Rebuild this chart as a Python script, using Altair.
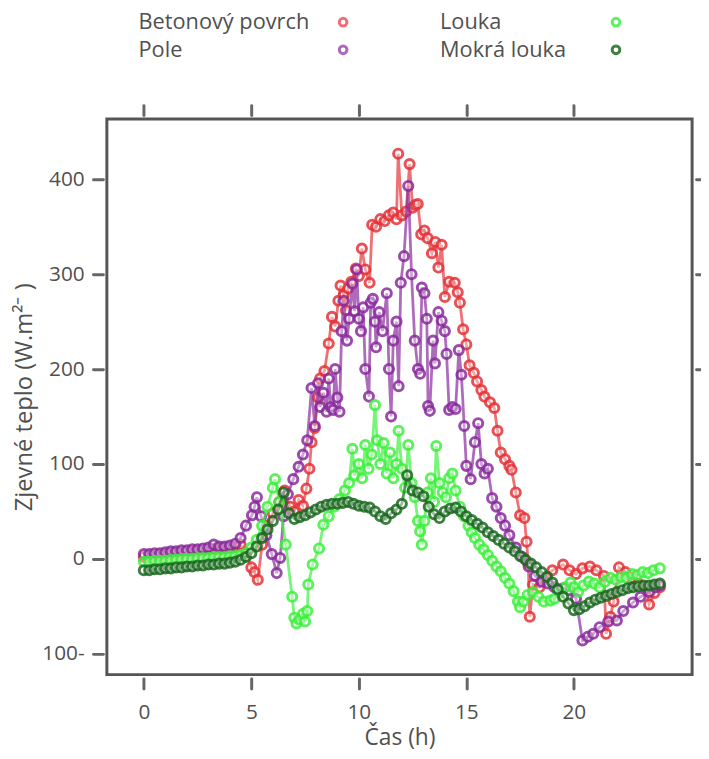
import altair as alt
import pandas as pd

SERIES = ["Betonový povrch", "Pole", "Louka", "Mokrá louka"]
COLORS = ["#e5343a", "#8a2c9e", "#3ff03f", "#1d6a22"]

X_TICKS = [0, 5, 10, 15, 20]
Y_TICKS = [-100, 0, 100, 200, 300, 400]

# (hour, W/m2) readings
beton = [(0,2),(0.25,2),(0.5,3),(0.75,3),(1,4),(1.25,5),(1.5,5),(1.75,6),(2,6),(2.25,7),(2.5,7),(2.75,8),
         (3,9),(3.25,10),(3.5,10),(3.75,10),(4,11),(4.25,13),(4.5,15),(4.75,6),(5.0,-9),(5.15,-14),(5.3,-22),
         (5.5,15),(5.75,35),(6.0,48),(6.3,60),(6.55,72),(6.8,55),(7.0,50),(7.2,62),(7.4,56),(7.56,74),(7.7,95),
         (7.8,123),(7.95,138),(8.1,170),(8.2,190),(8.4,198),(8.6,227),(8.75,255),(8.9,245),(9.05,272),(9.15,288),
         (9.3,278),(9.4,262),(9.5,285),(9.65,292),(9.86,306),(10.0,298),(10.14,327),(10.3,305),(10.5,291),
         (10.62,352),(10.8,350),(11.0,358),(11.2,356),(11.4,362),(11.6,365),(11.75,358),(11.83,427),(12.0,362),
         (12.2,366),(12.36,416),(12.5,370),(12.62,373),(12.74,374),(12.9,342),(13.05,346),(13.2,338),(13.4,322),
         (13.55,334),(13.7,307),(13.85,331),(14.0,276),(14.2,292),(14.46,291),(14.6,281),(14.7,270),(14.85,242),
         (15.0,226),(15.15,204),(15.35,196),(15.5,187),(15.7,178),(15.84,171),(16.1,165),(16.3,159),(16.45,135),
         (16.6,112),(16.8,105),(17.0,98),(17.1,94),(17.3,70),(17.5,46),(17.7,43),(17.8,18),(17.88,-5),(17.95,-61),
         (18.1,-27),(18.4,-30),(18.7,-20),(19.0,-12),(19.5,-6),(19.8,-12),(20.1,-16),(20.4,-10),(20.75,-8),
         (21.05,-12),(21.4,-18),(21.5,-79),(21.7,-61),(21.85,-45),(22.1,-9),(22.4,-14),(22.7,-20),(23.0,-26),
         (23.35,-30),(23.5,-48),(23.75,-36),(24.0,-30)]

pole = [(0,5),(0.25,5),(0.5,6),(0.75,6),(1,7),(1.25,8),(1.5,8),(1.75,9),(2,9),(2.25,10),(2.5,10),(2.75,11),
        (3,12),(3.25,15),(3.5,13),(3.75,13),(4,14),(4.25,16),(4.5,22),(4.75,35),(5.03,46),(5.15,55),(5.26,65),
        (5.45,45),(5.7,25),(5.95,5),(6.18,-15),(6.34,1),(6.5,45),(6.7,68),(6.95,84),(7.2,97),(7.4,110),(7.6,125),
        (7.8,180),(7.95,140),(8.1,185),(8.2,160),(8.35,175),(8.5,155),(8.6,190),(8.7,160),(8.8,157),(8.9,200),
        (9.0,170),(9.1,155),(9.2,240),(9.3,272),(9.45,230),(9.55,253),(9.7,290),(9.8,261),(9.9,305),(10.0,253),
        (10.1,240),(10.2,265),(10.3,200),(10.47,171),(10.55,270),(10.65,274),(10.75,250),(10.8,223),(10.95,260),
        (11.1,240),(11.3,280),(11.4,200),(11.5,150),(11.6,230),(11.75,250),(11.85,182),(11.95,291),(12.1,319),
        (12.3,393),(12.45,300),(12.6,230),(12.75,200),(12.85,195),(12.93,286),(13.05,280),(13.16,253),(13.22,161),
        (13.3,156),(13.45,230),(13.54,206),(13.7,260),(13.85,251),(14.0,240),(14.08,216),(14.2,157),(14.35,160),
        (14.5,158),(14.65,220),(14.77,194),(14.9,140),(15.0,98),(15.2,84),(15.4,123),(15.55,143),(15.7,100),
        (15.85,90),(16.0,95),(16.2,64),(16.4,55),(16.6,43),(16.8,35),(17.0,25),(17.3,12),(17.6,2),(17.9,-8),
        (18.2,-18),(18.5,-24),(18.8,-26),(19.1,-30),(19.5,-31),(19.8,-33),(20.1,-42),(20.4,-86),(20.65,-82),
        (20.9,-79),(21.2,-72),(21.6,-66),(22.0,-65),(22.3,-55),(22.75,-46),(23.1,-40),(23.5,-35),(23.8,-30),(24.0,-28)]

louka = [(0,-3),(0.25,-3),(0.5,-2),(0.75,-2),(1,-2),(1.25,-1),(1.5,-1),(1.75,0),(2,0),(2.25,0),(2.5,1),(2.75,1),
         (3,1),(3.25,2),(3.5,2),(3.75,2),(4,3),(4.25,3),(4.5,4),(4.75,6),(5.0,12),(5.25,20),(5.5,35),(5.75,55),
         (6.0,75),(6.1,84),(6.3,60),(6.6,15),(6.9,-40),(7.0,-62),(7.1,-68),(7.25,-64),(7.4,-58),(7.5,-66),(7.6,-55),
         (7.65,-27),(7.85,-6),(8.15,11),(8.35,36),(8.6,45),(8.85,55),(9.1,63),(9.35,72),(9.55,80),(9.7,116),
         (9.8,88),(10.0,100),(10.15,85),(10.3,120),(10.45,95),(10.6,110),(10.75,162),(10.85,125),(11.0,100),
         (11.15,122),(11.3,90),(11.45,112),(11.6,85),(11.75,100),(11.85,135),(12.0,95),(12.15,75),(12.3,120),
         (12.45,80),(12.6,65),(12.75,40),(12.85,29),(12.93,15),(13.05,40),(13.2,70),(13.35,85),(13.5,60),
         (13.6,119),(13.75,80),(13.9,70),(14.05,65),(14.2,85),(14.35,90),(14.5,72),(14.7,55),(14.9,45),(15.1,35),
         (15.25,28),(15.4,22),(15.6,15),(15.8,10),(16.0,4),(16.2,-2),(16.4,-8),(16.6,-13),(16.8,-20),(17.0,-26),
         (17.2,-34),(17.4,-45),(17.5,-51),(17.65,-45),(17.85,-38),(18.1,-35),(18.35,-40),(18.6,-45),(18.9,-44),
         (19.1,-42),(19.35,-36),(19.6,-30),(19.85,-25),(20.0,-30),(20.2,-35),(20.45,-28),(20.7,-24),(20.95,-26),
         (21.2,-30),(21.45,-24),(21.7,-20),(21.95,-22),(22.2,-19),(22.45,-20),(22.7,-16),(22.95,-17),(23.2,-14),
         (23.45,-15),(23.7,-12),(24.0,-10)]

mokra = [(0,-12),(0.25,-12),(0.5,-11),(0.75,-11),(1,-10),(1.25,-10),(1.5,-9),(1.75,-9),(2,-8),(2.25,-8),
         (2.5,-7),(2.75,-7),(3,-6),(3.25,-6),(3.5,-5),(3.75,-5),(4,-4),(4.25,-3),(4.5,-1),(4.75,2),(5.0,6),
         (5.25,13),(5.5,22),(5.75,31),(6.0,40),(6.25,52),(6.5,70),(6.75,48),(7.0,42),(7.25,44),(7.5,46),(7.75,49),
         (8.0,52),(8.25,55),(8.5,57),(8.75,58),(9.0,58),(9.25,59),(9.5,60),(9.75,58),(10.0,56),(10.25,55),
         (10.5,54),(10.75,50),(11.0,45),(11.25,42),(11.5,48),(11.75,52),(12.0,58),(12.25,88),(12.5,72),(12.75,70),
         (13.0,66),(13.25,55),(13.5,47),(13.75,43),(14.0,50),(14.25,53),(14.5,54),(14.75,50),(15.0,45),(15.25,41),
         (15.5,37),(15.75,33),(16.0,28),(16.25,24),(16.5,20),(16.75,16),(17.0,12),(17.25,8),(17.5,3),(17.75,-1),
         (18.0,-5),(18.25,-9),(18.5,-14),(18.75,-19),(19.0,-25),(19.25,-32),(19.5,-40),(19.75,-47),(20.0,-54),
         (20.25,-53),(20.5,-50),(20.75,-46),(21.0,-43),(21.25,-41),(21.5,-39),(21.75,-37),(22.0,-35),(22.25,-33),
         (22.5,-31),(22.75,-30),(23.0,-29),(23.25,-28),(23.5,-28),(23.75,-27),(24.0,-26)]

rows = []
for name, pts in zip(SERIES, [beton, pole, louka, mokra]):
    for h, v in pts:
        rows.append({"h": h, "v": v, "s": name})
df = pd.DataFrame(rows)

FONT = "Open Sans"
TXT = "#505050"
TICK = "#666666"

xscale = alt.Scale(domain=[-1.72, 25.5], nice=False, zero=False)
yscale = alt.Scale(domain=[-122, 463.5], nice=False, zero=False)

x_axis = alt.Axis(orient="bottom", values=X_TICKS, title="Čas (h)", grid=False, domain=False, offset=4,
                  tickSize=10, tickWidth=3, tickColor=TICK, tickCap="round",
                  labelFont=FONT, labelFontSize=21, labelFontWeight="normal", labelColor=TXT, labelPadding=13,
                  titleFont=FONT, titleFontSize=23, titleFontWeight="normal", titleColor=TXT, titlePadding=5)
y_axis = alt.Axis(orient="left", values=Y_TICKS, title="Zjevné teplo (W.m²⁻ )", grid=False, domain=False, offset=4,
                  tickSize=10, tickWidth=3, tickColor=TICK, tickCap="round",
                  labelFont=FONT, labelFontSize=21, labelFontWeight="normal", labelColor=TXT, labelPadding=9,
                  labelExpr="datum.value < 0 ? abs(datum.value) + '-' : datum.label",
                  titleFont=FONT, titleFontSize=24, titleFontWeight="normal", titleColor=TXT, titlePadding=5)
top_axis = alt.Axis(orient="top", values=X_TICKS, labels=False, title=None, grid=False, domain=False,
                    offset=4, tickSize=10, tickWidth=3, tickColor=TICK, tickCap="round")
right_axis = alt.Axis(orient="right", values=Y_TICKS, labels=False, title=None, grid=False, domain=False,
                      offset=4, tickSize=10, tickWidth=3, tickColor=TICK, tickCap="round")

stroke_scale = alt.Scale(domain=SERIES, range=COLORS)
color_scale = alt.Scale(domain=SERIES[2:] + SERIES[:2], range=COLORS[2:] + COLORS[:2])

leg_common = dict(orient="none", title=None, labelFont=FONT, labelFontSize=22, labelColor=TXT, labelLimit=400,
                  symbolType="circle", symbolSize=60, symbolStrokeWidth=3, symbolFillColor="white",
                  rowPadding=6, padding=0)
legend1 = alt.Legend(values=SERIES[:2], legendX=3, legendY=-109, symbolOffset=225,
                     labelOffset={"expr": "-218"}, **leg_common)
legend2 = alt.Legend(values=SERIES[2:], legendX=339, legendY=-109, symbolOffset=165,
                     labelOffset={"expr": "-189"}, **leg_common)

base = alt.Chart(df)
layers = []
for i, name in enumerate(SERIES):
    sub = base.transform_filter(alt.datum.s == name)
    if i == 0:
        xe = alt.X("h:Q", scale=xscale, axis=x_axis)
        ye = alt.Y("v:Q", scale=yscale, axis=y_axis)
    else:
        xe = alt.X("h:Q", scale=xscale, axis=None)
        ye = alt.Y("v:Q", scale=yscale, axis=None)
    line = sub.mark_line(strokeWidth=2.8, opacity=0.7).encode(
        x=xe, y=ye,
        stroke=alt.Stroke("s:N", scale=stroke_scale, legend=legend1),
        order="h:Q",
    )
    pts = sub.mark_point(filled=False, fill="white", fillOpacity=0.45, size=85, strokeWidth=3, opacity=0.85).encode(
        x=alt.X("h:Q", scale=xscale, axis=None), y=alt.Y("v:Q", scale=yscale, axis=None),
        color=alt.Color("s:N", scale=color_scale, legend=legend2),
    )
    layers += [line, pts]

extra = base.mark_point(opacity=0).encode(
    x=alt.X("h:Q", scale=xscale, axis=top_axis),
    y=alt.Y("v:Q", scale=yscale, axis=right_axis),
)
layers.append(extra)

chart = alt.layer(*layers).resolve_axis(x="independent", y="independent").properties(
    width=592, height=562,
    autosize=alt.AutoSizeParams(type="none"),
    padding={"left": 100, "top": 108, "right": 9, "bottom": 80},
).configure_view(stroke="#555555", strokeWidth=3)

chart.save("out.html", embed_options={"renderer": "svg", "actions": False})
